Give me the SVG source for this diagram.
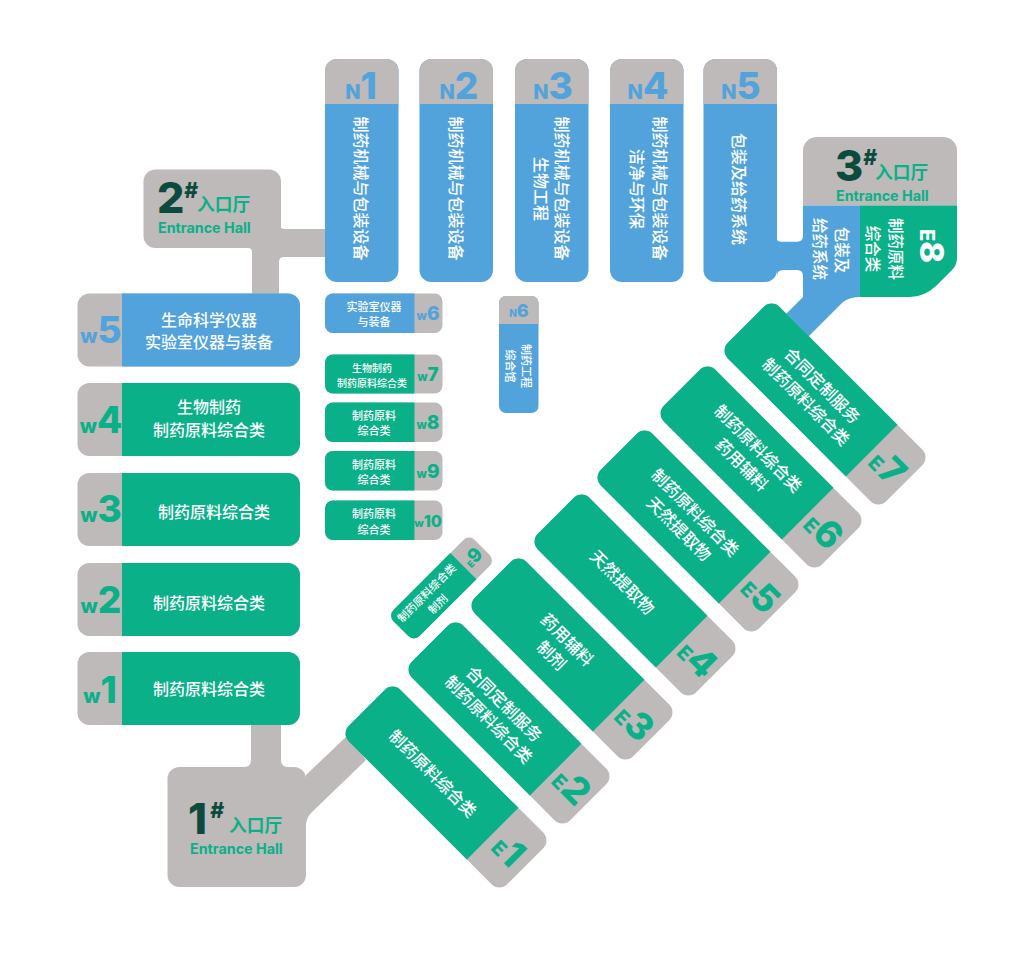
<svg xmlns="http://www.w3.org/2000/svg" width="1024" height="964" viewBox="0 0 1024 964">
<style>
.g{fill:#bdbab9}.b{fill:#52a3dc}.t{fill:#0ab088}
text{font-family:"Noto Sans CJK SC","Noto Sans",sans-serif;font-weight:500;fill:#fff;text-anchor:middle}
.v{dominant-baseline:central}
.l{font-family:Inter,"Liberation Sans",sans-serif;font-weight:800}
.lb{fill:#52a3dc}.lg{fill:#0ab088}
.big{font-size:37px}.sm{font-size:20px}
.s16{font-size:16px}.s15{font-size:15.500px}.s11{font-size:11px}.s10{font-size:10px}.s17{font-size:16.500px}
.num{font-family:Inter,"Liberation Sans",sans-serif;font-weight:800;font-size:43px;fill:#0d4a3e;text-anchor:start}
.hash{font-family:Inter,"Liberation Sans",sans-serif;font-weight:800;font-style:italic;font-size:21px;fill:#0d4a3e;text-anchor:start}
.rk{font-size:17.700px;font-weight:700;fill:#0ab088;text-anchor:start}
.eh{font-family:Inter,"Liberation Sans",sans-serif;font-weight:700;font-size:14.300px;fill:#0ab088;text-anchor:start}
</style>
<defs>
<g id="ebox"><rect class="g" x="-112" y="-36.500" width="224" height="73" rx="11"/><path class="t" d="M-101,-36.500H66V36.500H-101A11 11 0 0 1 -112,25.500V-25.500A11 11 0 0 1 -101,-36.500Z"/></g>
</defs>

<g id="connectors">
<path class="g" d="M280,225Q280,229 285,229H326V257H284Q279,257 279,262V295H252V252Q252,248 248,248L280,240Z"/>
<path class="g" d="M251,724H281V760Q281,767 288,767H244Q251,767 251,760Z"/>
<path class="g" d="M306,775L348,735L366,760L312,812Q306,818 306,825Z"/>
<path class="b" d="M776,236Q776,241.700 781,241.700H797Q803,241.700 803,236V276Q803,270 797,270H783Q777,270 777,276Z"/>
<path class="b" d="M803,290H860V297Q850,297 843,302L805,340L785,315L803,297Z"/>
</g>

<g id="hall2">
<rect class="g" x="143.500" y="169.500" width="137.500" height="78.500" rx="12"/>
<text class="num" x="157" y="213">2</text><text class="hash" x="184" y="198">#</text>
<text class="rk" x="197" y="211">入口厅</text><text class="eh" x="158" y="233">Entrance Hall</text>
</g>
<g id="hall1">
<rect class="g" x="167.500" y="767" width="138.500" height="120" rx="12"/>
<text class="num" x="188" y="834">1</text><text class="hash" x="210" y="818">#</text>
<text class="rk" x="229" y="832">入口厅</text><text class="eh" x="190" y="854">Entrance Hall</text>
</g>
<g id="hall3">
<path class="g" d="M803,205.500V151A14 14 0 0 1 817,137H943A14 14 0 0 1 957,151V205.500Z"/>
<rect class="b" x="803" y="205.500" width="57" height="91.500"/>
<path class="t" d="M860,205.500H957V258Q957,266 950,272L936,286Q924,297 910,297H860Z"/>
<text class="num" x="835" y="181">3</text><text class="hash" x="863" y="165">#</text>
<text class="rk" x="875" y="179">入口厅</text><text class="eh" x="836" y="201">Entrance Hall</text>
<text class="s15 v" transform="translate(843,250) rotate(90)">包装及</text>
<text class="s15 v" transform="translate(821,249) rotate(90)">给药系统</text>
<text class="s15 v" transform="translate(897,249) rotate(90)">制药原料</text>
<text class="s15 v" transform="translate(874,249) rotate(90)">综合类</text>
<text class="l" transform="translate(920,246) rotate(90)"><tspan font-size="20">E</tspan><tspan font-size="33">8</tspan></text>
</g>

<g id="n1"><rect class="b" x="325" y="59" width="73.500" height="223" rx="12"/><path class="g" d="M325,104V71A12 12 0 0 1 337,59H386.500A12 12 0 0 1 398.500,71V104Z"/>
<text class="l lb" x="361" y="99"><tspan class="sm">N</tspan><tspan class="big">1</tspan></text>
<text class="s16 v" transform="translate(361.500,188.500) rotate(90)">制药机械与包装设备</text></g>
<g id="n2"><rect class="b" x="419.500" y="59" width="73.500" height="223" rx="12"/><path class="g" d="M419.500,104V71A12 12 0 0 1 431.500,59H481A12 12 0 0 1 493,71V104Z"/>
<text class="l lb" x="459" y="99"><tspan class="sm">N</tspan><tspan class="big">2</tspan></text>
<text class="s16 v" transform="translate(456.500,188.500) rotate(90)">制药机械与包装设备</text></g>
<g id="n3"><rect class="b" x="515" y="59" width="73.500" height="223" rx="12"/><path class="g" d="M515,104V71A12 12 0 0 1 527,59H576.500A12 12 0 0 1 588.500,71V104Z"/>
<text class="l lb" x="553" y="99"><tspan class="sm">N</tspan><tspan class="big">3</tspan></text>
<text class="s16 v" transform="translate(563,188.500) rotate(90)">制药机械与包装设备</text>
<text class="s16 v" transform="translate(541.500,189) rotate(90)">生物工程</text></g>
<g id="n4"><rect class="b" x="610" y="59" width="73.500" height="223" rx="12"/><path class="g" d="M610,104V71A12 12 0 0 1 622,59H671.500A12 12 0 0 1 683.500,71V104Z"/>
<text class="l lb" x="648" y="99"><tspan class="sm">N</tspan><tspan class="big">4</tspan></text>
<text class="s16 v" transform="translate(661,188.500) rotate(90)">制药机械与包装设备</text>
<text class="s16 v" transform="translate(638,189) rotate(90)">洁净与环保</text></g>
<g id="n5"><rect class="b" x="703.500" y="59" width="73.500" height="223" rx="12"/><path class="g" d="M703.500,104V71A12 12 0 0 1 715.500,59H765A12 12 0 0 1 777,71V104Z"/>
<text class="l lb" x="741" y="99"><tspan class="sm">N</tspan><tspan class="big">5</tspan></text>
<text class="s16 v" transform="translate(740,189) rotate(90)">包装及给药系统</text></g>

<g id="n6s"><rect class="b" x="499" y="296" width="39.500" height="117" rx="7"/><path class="g" d="M499,324V303A7 7 0 0 1 506,296H531.500A7 7 0 0 1 538.500,303V324Z"/>
<text class="l lb" x="519" y="317"><tspan font-size="10">N</tspan><tspan font-size="18">6</tspan></text>
<text class="s11 v" transform="translate(526.500,366) rotate(90)">制药工程</text>
<text class="s11 v" transform="translate(510.500,366) rotate(90)">综合馆</text></g>

<g id="w5"><rect class="g" x="77.500" y="293.500" width="222.500" height="73" rx="12"/><path class="b" d="M122,293.500H288A12 12 0 0 1 300,305.500V354.500A12 12 0 0 1 288,366.500H122Z"/>
<text class="l lb" x="101" y="343"><tspan class="sm">w</tspan><tspan class="big">5</tspan></text>
<text class="s16" x="209" y="326">生命科学仪器</text><text class="s16" x="209" y="348">实验室仪器与装备</text></g>
<g id="w4"><rect class="g" x="77.500" y="383" width="222.500" height="73" rx="12"/><path class="t" d="M122,383H288A12 12 0 0 1 300,395V444A12 12 0 0 1 288,456H122Z"/>
<text class="l lg" x="101" y="433"><tspan class="sm">w</tspan><tspan class="big">4</tspan></text>
<text class="s16" x="209" y="413">生物制药</text><text class="s16" x="209" y="436">制药原料综合类</text></g>
<g id="w3"><rect class="g" x="77.500" y="473" width="222.500" height="73" rx="12"/><path class="t" d="M122,473H288A12 12 0 0 1 300,485V534A12 12 0 0 1 288,546H122Z"/>
<text class="l lg" x="101" y="522"><tspan class="sm">w</tspan><tspan class="big">3</tspan></text>
<text class="s16" x="214" y="518">制药原料综合类</text></g>
<g id="w2"><rect class="g" x="77.500" y="563" width="222.500" height="73" rx="12"/><path class="t" d="M122,563H288A12 12 0 0 1 300,575V624A12 12 0 0 1 288,636H122Z"/>
<text class="l lg" x="101" y="613"><tspan class="sm">w</tspan><tspan class="big">2</tspan></text>
<text class="s16" x="209" y="609">制药原料综合类</text></g>
<g id="w1"><rect class="g" x="77.500" y="652" width="222.500" height="73" rx="12"/><path class="t" d="M122,652H288A12 12 0 0 1 300,664V713A12 12 0 0 1 288,725H122Z"/>
<text class="l lg" x="100" y="703"><tspan class="sm">w</tspan><tspan class="big">1</tspan></text>
<text class="s16" x="209" y="695">制药原料综合类</text></g>

<g id="w6"><rect class="g" x="325" y="293.500" width="117.500" height="39.500" rx="8"/><path class="b" d="M414.500,293.500H333A8 8 0 0 0 325,301.500V325A8 8 0 0 0 333,333H414.500Z"/>
<text class="l lb" x="428" y="320"><tspan font-size="12">w</tspan><tspan font-size="19">6</tspan></text>
<text class="s11" x="374" y="311">实验室仪器</text><text class="s11" x="374" y="326">与装备</text></g>
<g id="w7"><rect class="g" x="325" y="354.500" width="117.500" height="39" rx="8"/><path class="t" d="M414.500,354.500H333A8 8 0 0 0 325,362.500V385.500A8 8 0 0 0 333,393.500H414.500Z"/>
<text class="l lg" x="428" y="381"><tspan font-size="12">w</tspan><tspan font-size="19">7</tspan></text>
<text class="s10" x="372" y="371.500">生物制药</text><text class="s10" x="372" y="386.500">制药原料综合类</text></g>
<g id="w8"><rect class="g" x="325" y="402.500" width="117.500" height="39.500" rx="8"/><path class="t" d="M414.500,402.500H333A8 8 0 0 0 325,410.500V434A8 8 0 0 0 333,442H414.500Z"/>
<text class="l lg" x="428" y="429"><tspan font-size="12">w</tspan><tspan font-size="19">8</tspan></text>
<text class="s11" x="374" y="419.500">制药原料</text><text class="s11" x="374" y="435">综合类</text></g>
<g id="w9"><rect class="g" x="325" y="451" width="117.500" height="39.500" rx="8"/><path class="t" d="M414.500,451H333A8 8 0 0 0 325,459V482.500A8 8 0 0 0 333,490.500H414.500Z"/>
<text class="l lg" x="428" y="478"><tspan font-size="12">w</tspan><tspan font-size="19">9</tspan></text>
<text class="s11" x="374" y="469">制药原料</text><text class="s11" x="374" y="484">综合类</text></g>
<g id="w10"><rect class="g" x="325" y="500.500" width="117.500" height="39.500" rx="8"/><path class="t" d="M414.500,500.500H333A8 8 0 0 0 325,508.500V532A8 8 0 0 0 333,540H414.500Z"/>
<text class="l lg" x="428" y="527"><tspan font-size="11">w</tspan><tspan font-size="16">10</tspan></text>
<text class="s11" x="374" y="518">制药原料</text><text class="s11" x="374" y="534">综合类</text></g>

<g id="e1" transform="translate(446,787) rotate(45)"><use href="#ebox"/>
<text class="s17" x="-19" y="6">制药原料综合类</text>
<text class="l lg" x="89" y="13"><tspan class="sm">E</tspan><tspan class="big">1</tspan></text></g>
<g id="e2" transform="translate(509,723) rotate(45)"><use href="#ebox"/>
<text class="s17" x="-17" y="-4">合同定制服务</text><text class="s17" x="-17" y="18">制药原料综合类</text>
<text class="l lg" x="89" y="13"><tspan class="sm">E</tspan><tspan class="big">2</tspan></text></g>
<g id="e3" transform="translate(572,659) rotate(45)"><use href="#ebox"/>
<text class="s17" x="-17" y="-4">药用辅料</text><text class="s17" x="-17" y="18">制剂</text>
<text class="l lg" x="89" y="13"><tspan class="sm">E</tspan><tspan class="big">3</tspan></text></g>
<g id="e4" transform="translate(635,595) rotate(45)"><use href="#ebox"/>
<text class="s17" x="-18" y="6">天然提取物</text>
<text class="l lg" x="89" y="13"><tspan class="sm">E</tspan><tspan class="big">4</tspan></text></g>
<g id="e5" transform="translate(698,531) rotate(45)"><use href="#ebox"/>
<text class="s17" x="-15" y="-5">制药原料综合类</text><text class="s17" x="-15" y="18">天然提取物</text>
<text class="l lg" x="89" y="13"><tspan class="sm">E</tspan><tspan class="big">5</tspan></text></g>
<g id="e6" transform="translate(761,467) rotate(45)"><use href="#ebox"/>
<text class="s17" x="-15" y="-5">制药原料综合类</text><text class="s17" x="-15" y="18">药用辅料</text>
<text class="l lg" x="89" y="13"><tspan class="sm">E</tspan><tspan class="big">6</tspan></text></g>
<g id="e7" transform="translate(825,404) rotate(45)"><use href="#ebox"/>
<text class="s17" x="-15" y="-5">合同定制服务</text><text class="s17" x="-15" y="18">制药原料综合类</text>
<text class="l lg" x="89" y="13"><tspan class="sm">E</tspan><tspan class="big">7</tspan></text></g>

<g id="e9" transform="translate(441.500,588) rotate(-45)"><rect class="g" x="-57.500" y="-18.500" width="115" height="37" rx="8"/><path class="t" d="M31,-18.500H-49.500A8 8 0 0 0 -57.500,-10.500V10.500A8 8 0 0 0 -49.500,18.500H31Z"/>
<text class="s11" x="-14" y="-3">制药原料综合类</text><text class="s11" x="-14" y="13">制剂</text>
<text class="l lg" x="44" y="7"><tspan font-size="9">E</tspan><tspan font-size="19">9</tspan></text></g>
</svg>
